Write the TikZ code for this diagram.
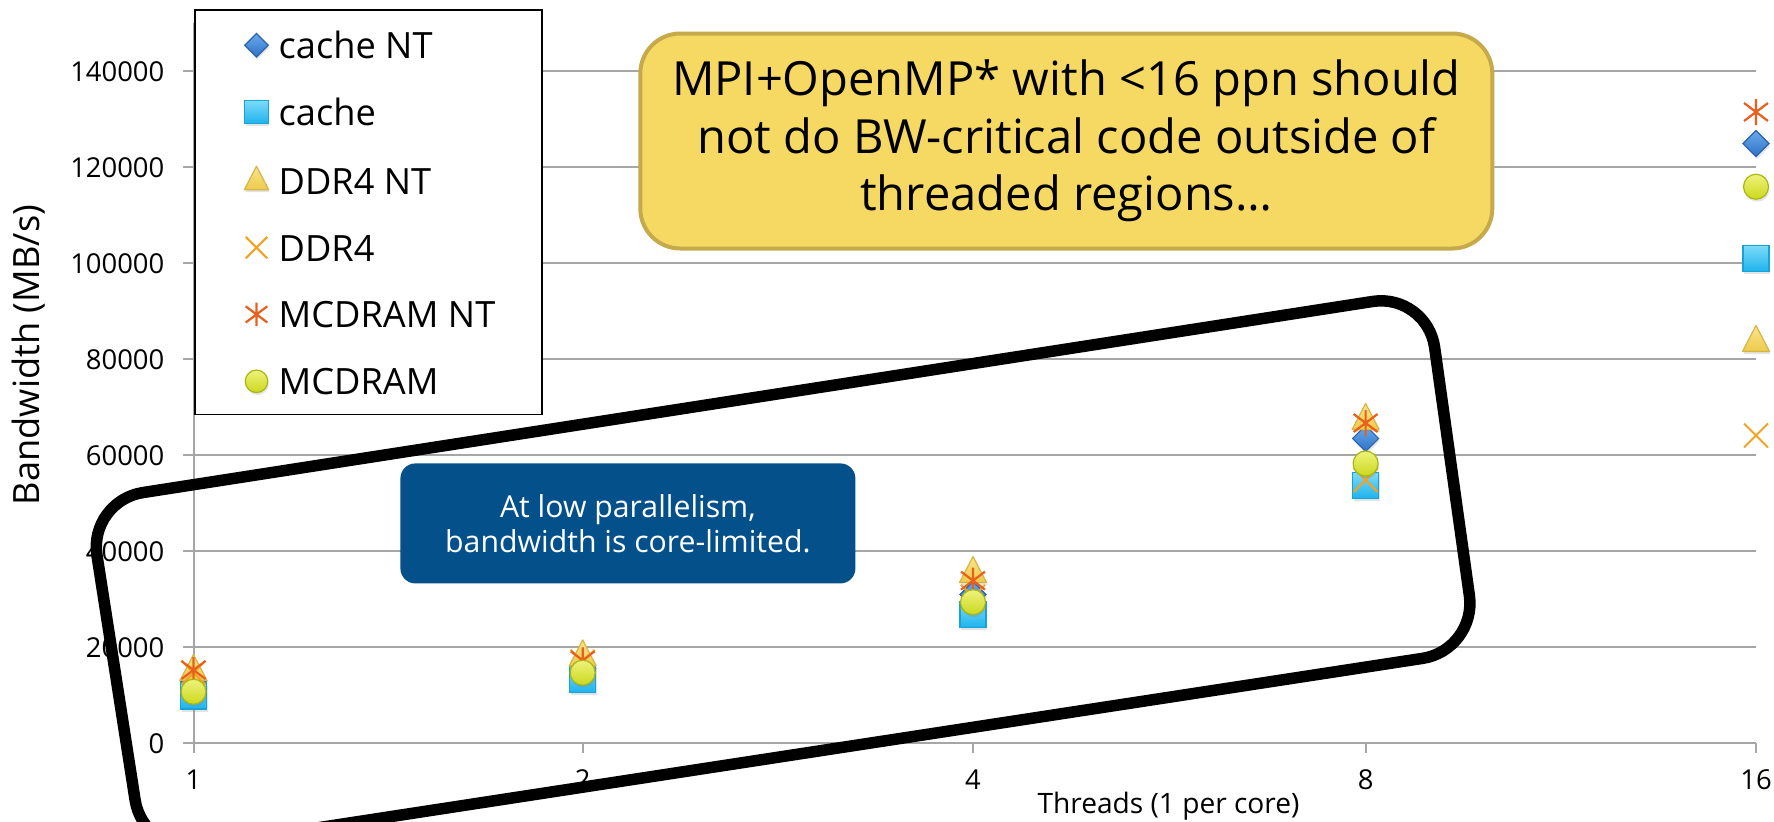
\documentclass[tikz,border=0pt]{standalone}
\usepackage{fontspec}
\setmainfont{Open Sans}
\usetikzlibrary{shadows}

\definecolor{gridgray}{HTML}{A6A6A6}
\definecolor{notefill}{HTML}{F5D963}
\definecolor{noteedge}{HTML}{C5A94A}
\definecolor{calloutblue}{HTML}{03508A}
\definecolor{diamtop}{HTML}{6AAAEC}
\definecolor{diambot}{HTML}{2F72C6}
\definecolor{diamedge}{HTML}{2A63AC}
\definecolor{sqtop}{HTML}{7DDAF8}
\definecolor{sqbot}{HTML}{1DB3EC}
\definecolor{sqedge}{HTML}{17A2D8}
\definecolor{tritop}{HTML}{F8E48A}
\definecolor{tribot}{HTML}{EDCB4C}
\definecolor{triedge}{HTML}{D7B443}
\definecolor{xorange}{HTML}{F2A224}
\definecolor{astred}{HTML}{E8601C}
\definecolor{circtop}{HTML}{EEF27C}
\definecolor{circbot}{HTML}{CBD81C}
\definecolor{circedge}{HTML}{A9B712}

\tikzset{
  gridline/.style={draw=gridgray, line width=0.2mm},
  ticklab/.style={font=\fontsize{7.8}{9}\selectfont, inner sep=0pt},
  legtext/.style={font=\fontsize{10.3}{12}\selectfont, inner sep=0pt, anchor=base west},
  mshadow/.style={drop shadow={opacity=0.22, shadow xshift=0.1mm, shadow yshift=-0.25mm}},
  diamfill/.style={mshadow, top color=diamtop, bottom color=diambot, draw=diamedge, line width=0.12mm},
  sqfill/.style={mshadow, top color=sqtop, bottom color=sqbot, draw=sqedge, line width=0.12mm},
  trifill/.style={mshadow, top color=tritop, bottom color=tribot, draw=triedge, line width=0.12mm, line join=round},
  xline/.style={draw=xorange, line width=0.2mm},
  astline/.style={draw=astred, line width=0.22mm},
  circfill/.style={mshadow, top color=circtop, bottom color=circbot, draw=circedge, line width=0.12mm},
  pics/mkdiam/.style={code={\path[diamfill] (0,-13)--(13,0)--(0,13)--(-13,0)--cycle;}},
  pics/mksq/.style={code={\path[sqfill] (-13,-13) rectangle (13,13);}},
  pics/mktri/.style={code={\path[trifill] (0,-17.5)--(13.5,8.5)--(-13.5,8.5)--cycle;}},
  pics/mkx/.style={code={\draw[xline] (-12,-12)--(12,12) (-12,12)--(12,-12);}},
  pics/mkast/.style={code={\draw[astline] (-12,-9)--(12,9) (-12,9)--(12,-9) (0,-13)--(0,13);}},
  pics/mkcirc/.style={code={\path[circfill] (0,0) circle[radius=12.5];}},
}

\begin{document}
\begin{tikzpicture}[x=0.1mm, y=-0.1mm]
\useasboundingbox (0,0) rectangle (1774,821);
\clip (0,0) rectangle (1774,821);

% horizontal grid lines and value axis
\foreach \i/\val in {0/0, 1/20000, 2/40000, 3/60000, 4/80000, 5/100000, 6/120000, 7/140000} {
  \draw[gridline] (193.5,{743.3-96*\i}) -- (1756,{743.3-96*\i});
  \draw[gridline] (183,{743.3-96*\i}) -- (193.5,{743.3-96*\i});
  \node[ticklab, anchor=east] (yt\i) at (165,{743.3-96*\i}) {\val};
}
\draw[gridline] (193.5,23) -- (193.5,743.3);

% thread-count axis ticks and labels
\foreach \px/\lab in {193.5/1, 582.7/2, 973/4, 1365.6/8, 1756/16} {
  \draw[gridline] (\px,743.3) -- (\px,753);
  \node[ticklab] (xt\lab) at (\px,780) {\lab};
}

% axis titles
\node[font=\fontsize{8}{10}\selectfont, inner sep=0pt] (xtitle) at (1168.5,806) {Threads (1 per core)};
\node[font=\fontsize{10.3}{12}\selectfont, inner sep=0pt, rotate=90] (ytitle) at (29,355) {Bandwidth (MB/s)};

% legend
\draw[black, line width=0.13mm, fill=white] (195,10) rectangle (542,414.8);
\pic[scale=0.9] at (256.5,45.2) {mkdiam};
\node[legtext] (lg1) at (278,58.6) {cache NT};
\pic[scale=0.9] at (256.5,112.1) {mksq};
\node[legtext] (lg2) at (278,125.5) {cache};
\pic[scale=0.9] at (256.5,182) {mktri};
\node[legtext] (lg3) at (278,194.1) {DDR4 NT};
\pic[scale=0.9] at (256.5,247.6) {mkx};
\node[legtext] (lg4) at (278,261) {DDR4};
\pic[scale=0.9] at (256.5,314.4) {mkast};
\node[legtext] (lg5) at (278,327.8) {MCDRAM NT};
\pic[scale=0.9] at (256.5,381.3) {mkcirc};
\node[legtext] (lg6) at (278,394.7) {MCDRAM};

% callouts
\node[draw=noteedge, fill=notefill, line width=0.4mm, rounded corners=4mm,
      minimum width=85.2mm, minimum height=21.5mm, align=center,
      font=\fontsize{13.4}{16.4}\selectfont] (note) at (1066.3,141)
  {MPI+OpenMP* with <16 ppn should\\not do BW-critical code outside of\\threaded regions…};
\node[fill=calloutblue, rounded corners=1.5mm, minimum width=45.5mm, minimum height=12mm,
      align=center, text=white, font=\fontsize{8.6}{10}\selectfont] (core) at (627.9,523.4)
  {At low parallelism,\\bandwidth is core-limited.};

% data series
\foreach \px/\py in {193.5/680.9, 582.7/668.4, 973/594.5, 1365.6/438.5, 1756/143.5}
  \pic at (\px,\py) {mkdiam};
\foreach \px/\py in {193.5/696, 582.7/679.5, 973/614.7, 1365.6/485.5, 1756/258.5}
  \pic at (\px,\py) {mksq};
\foreach \px/\py in {193.5/672, 582.7/657.4, 973/574, 1365.6/421, 1756/343}
  \pic at (\px,\py) {mktri};
\foreach \px/\py in {193.5/672.7, 582.7/661.7, 973/596.9, 1365.6/480, 1756/435.5}
  \pic at (\px,\py) {mkx};
\foreach \px/\py in {193.5/670, 582.7/660.3, 973/580.6, 1365.6/423, 1756/112}
  \pic at (\px,\py) {mkast};
\foreach \px/\py in {193.5/691.7, 582.7/672.7, 973/602.2, 1365.6/463.5, 1756/186.7}
  \pic at (\px,\py) {mkcirc};

% hand-drawn highlight around the low thread counts
\draw[black, line width=1.15mm, rounded corners=5.5mm, line join=round]
  (757.75,397) -- (1427,293) -- (1477,650) -- (143.6,854.5) -- (88.5,501) -- cycle;
\end{tikzpicture}
\end{document}
